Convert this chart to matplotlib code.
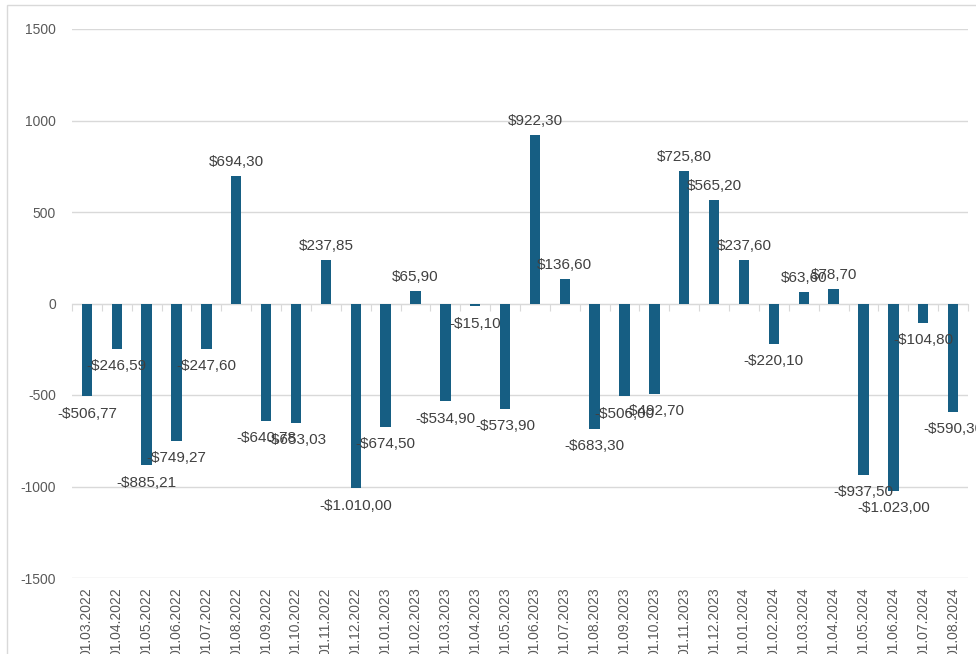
import matplotlib
matplotlib.use("Agg")
import matplotlib.pyplot as plt
import matplotlib.transforms as mtransforms
from matplotlib.patches import Rectangle
import numpy as np

plt.rcParams['font.family'] = ['Liberation Sans', 'DejaVu Sans']

dates = ["01.03.2022", "01.04.2022", "01.05.2022", "01.06.2022", "01.07.2022", "01.08.2022",
         "01.09.2022", "01.10.2022", "01.11.2022", "01.12.2022", "01.01.2023", "01.02.2023",
         "01.03.2023", "01.04.2023", "01.05.2023", "01.06.2023", "01.07.2023", "01.08.2023",
         "01.09.2023", "01.10.2023", "01.11.2023", "01.12.2023", "01.01.2024", "01.02.2024",
         "01.03.2024", "01.04.2024", "01.05.2024", "01.06.2024", "01.07.2024", "01.08.2024"]
values = [-506.77, -246.59, -885.21, -749.27, -247.60, 694.30,
          -640.78, -653.03, 237.85, -1010.00, -674.50, 65.90,
          -534.90, -15.10, -573.90, 922.30, 136.60, -683.30,
          -506.00, -492.70, 725.80, 565.20, 237.60, -220.10,
          63.60, 78.70, -937.50, -1023.00, -104.80, -590.30]
yticks = [-1500, -1000, -500, 0, 500, 1000, 1500]

BAR = '#165E83'
GRID = '#D9D9D9'
TXT = '#404040'
TICK = '#595959'


def money(v):
    s = f"{abs(v):,.2f}"
    s = s.replace(",", "X").replace(".", ",").replace("X", ".")
    return ("-$" if v < 0 else "$") + s


W, H = 976, 654
fig = plt.figure(figsize=(W / 100, H / 100), dpi=100)
fig.patch.set_facecolor('white')

# outer chart frame
fig.patches.append(Rectangle((7 / W, -0.2), 1.2, 1.2 - 5 / H, transform=fig.transFigure,
                             fill=False, edgecolor=GRID, linewidth=1.0))

left, right = 72 / W, 968 / W
top, bottom = 1 - 29 / H, 1 - 578 / H
ax = fig.add_axes([left, bottom, right - left, top - bottom])

x = np.arange(len(values))
ax.bar(x, values, width=0.35, color=BAR, zorder=3)

ax.set_xlim(-0.5, len(values) - 0.5)
ax.set_ylim(-1500, 1500)
ax.set_yticks(yticks)
ax.set_yticklabels([str(t) for t in yticks], fontsize=10, color=TICK)
ax.tick_params(axis='y', length=0, pad=11.5)
ax.grid(axis='y', color=GRID, linewidth=1.0, zorder=0)
for sp in ax.spines.values():
    sp.set_visible(False)

# category axis at zero with boundary ticks
ax.spines['bottom'].set_visible(True)
ax.spines['bottom'].set_position(('data', 0))
ax.spines['bottom'].set_color(GRID)
ax.spines['bottom'].set_zorder(2)
ax.set_xticks(np.arange(len(values) + 1) - 0.5)
ax.set_xticklabels([])
ax.tick_params(axis='x', length=5, color=GRID, direction='out')

trans = mtransforms.blended_transform_factory(ax.transData, ax.transAxes)
for xi, d in zip(x, dates):
    ax.text(xi, -0.017, d, transform=trans, rotation=90, ha='center', va='top',
            fontsize=10, color=TICK)

for xi, v in zip(x, values):
    if v >= 0:
        ax.annotate(money(v), (xi, v), xytext=(0, 5), textcoords='offset points',
                    ha='center', va='bottom', fontsize=11, color=TXT, zorder=4)
    else:
        ax.annotate(money(v), (xi, v), xytext=(0, -7.5), textcoords='offset points',
                    ha='center', va='top', fontsize=11, color=TXT, zorder=4)

fig.savefig('out.png', dpi=100)
